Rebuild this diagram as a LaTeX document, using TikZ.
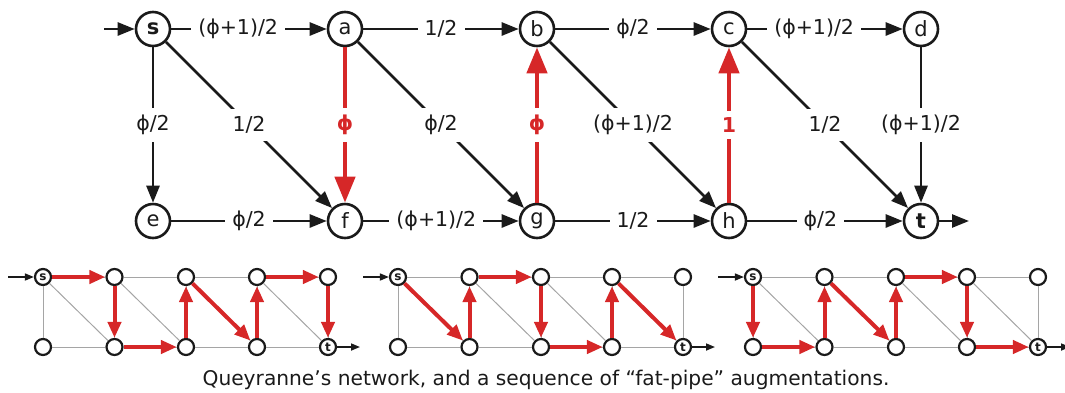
\documentclass[tikz,border=0pt]{standalone}
\usepackage{fontspec}
\setmainfont{DejaVu Sans}
\usetikzlibrary{arrows.meta}
\definecolor{myred}{RGB}{214,39,40}
\definecolor{ink}{RGB}{26,26,26}
\definecolor{lgray}{RGB}{165,165,165}
\newcommand{\qnet}[3]{%
\begin{scope}[shift={(#1,0)}]
\node[svtx] (s#2) at (43,277) {s};
\node[svtx] (a#2) at (114.5,277) {};
\node[svtx] (b#2) at (186,277) {};
\node[svtx] (c#2) at (257,277) {};
\node[svtx] (d#2) at (328,277) {};
\node[svtx] (e#2) at (43,347) {};
\node[svtx] (f#2) at (114.5,347) {};
\node[svtx] (g#2) at (186,347) {};
\node[svtx] (h#2) at (257,347) {};
\node[svtx] (t#2) at (328,347) {t};
\coordinate (in#2) at (8,277);
\coordinate (out#2) at (360,347);
\foreach \u/\v in {s/a,a/b,b/c,c/d,e/f,f/g,g/h,h/t,s/e,a/f,b/g,c/h,d/t,s/f,a/g,b/h,c/t}
  \draw[gedge] (\u#2) -- (\v#2);
\draw[sio] (in#2) -- (s#2);
\draw[sio] (t#2) -- (out#2);
\foreach \u/\v in {#3}
  \draw[sred] (\u#2) -- (\v#2);
\end{scope}}
\begin{document}
\begin{tikzpicture}[x=1pt,y=-1pt,
  vtx/.style={circle,draw=ink,line width=2.6pt,minimum size=34pt,inner sep=0pt,font=\fontsize{21}{21}\selectfont,text=ink},
  edge/.style={draw=ink,line width=2.6pt,-{Triangle[length=17pt,width=13pt]}},
  redge/.style={draw=myred,line width=4.5pt,-{Triangle[length=26pt,width=20pt]}},
  lab/.style={fill=white,inner sep=7pt,font=\fontsize{20.5}{21}\selectfont,text=ink},
  rlab/.style={fill=white,inner sep=7pt,font=\fontsize{20.5}{21}\selectfont\bfseries,text=myred},
  svtx/.style={circle,draw=ink,line width=2.2pt,minimum size=16pt,inner sep=0pt,fill=white,font=\fontsize{12}{12}\selectfont\bfseries,text=ink},
  gedge/.style={draw=lgray,line width=1pt},
  sred/.style={draw=myred,line width=4pt,-{Triangle[length=16pt,width=13pt]}},
  sio/.style={draw=ink,line width=1.6pt,-{Triangle[length=9pt,width=7pt]}},
  captext/.style={font=\fontsize{20.2}{20}\selectfont,text=ink}
]
\useasboundingbox (0,0) rectangle (1065,392);
% main network
\node[vtx] (s) at (153,29) {\textbf{s}};
\node[vtx] (a) at (345,29) {a};
\node[vtx] (b) at (537,29) {b};
\node[vtx] (c) at (729,29) {c};
\node[vtx] (d) at (921,29) {d};
\node[vtx] (e) at (153,221) {e};
\node[vtx] (f) at (345,221) {f};
\node[vtx] (g) at (537,221) {g};
\node[vtx] (h) at (729,221) {h};
\node[vtx] (t) at (921,221) {\textbf{t}};
\coordinate (in) at (104,29);
\coordinate (out) at (969,221);
\draw[edge] (in) -- (s);
\draw[edge] (t) -- (out);
\draw[edge] (s) -- node[lab,pos=0.43]{(ϕ+1)/2} (a);
\draw[edge] (a) -- node[lab]{1/2} (b);
\draw[edge] (b) -- node[lab]{ϕ/2} (c);
\draw[edge] (c) -- node[lab,pos=0.43]{(ϕ+1)/2} (d);
\draw[edge] (e) -- node[lab]{ϕ/2} (f);
\draw[edge] (f) -- node[lab,pos=0.47]{(ϕ+1)/2} (g);
\draw[edge] (g) -- node[lab]{1/2} (h);
\draw[edge] (h) -- node[lab,pos=0.47]{ϕ/2} (t);
\draw[edge] (s) -- node[lab]{ϕ/2} (e);
\draw[edge] (d) -- node[lab]{(ϕ+1)/2} (t);
\draw[edge] (s) -- node[lab]{1/2} (f);
\draw[edge] (a) -- node[lab]{ϕ/2} (g);
\draw[edge] (b) -- node[lab]{(ϕ+1)/2} (h);
\draw[edge] (c) -- node[lab]{1/2} (t);
\draw[redge] (a) -- node[rlab]{ϕ} (f);
\draw[redge] (g) -- node[rlab]{ϕ} (b);
\draw[redge] (h) -- node[rlab]{1} (c);
% augmentations
\qnet{0}{1}{s/a,a/f,f/g,g/b,b/h,h/c,c/d,d/t}
\qnet{355}{2}{s/f,f/a,a/b,b/g,g/h,h/c,c/t}
\qnet{710}{3}{s/e,e/f,f/a,a/g,g/b,b/c,c/h,h/t}
\node[captext] (caption) at (546,380) {Queyranne’s network, and a sequence of “fat-pipe” augmentations.};
\end{tikzpicture}
\end{document}
